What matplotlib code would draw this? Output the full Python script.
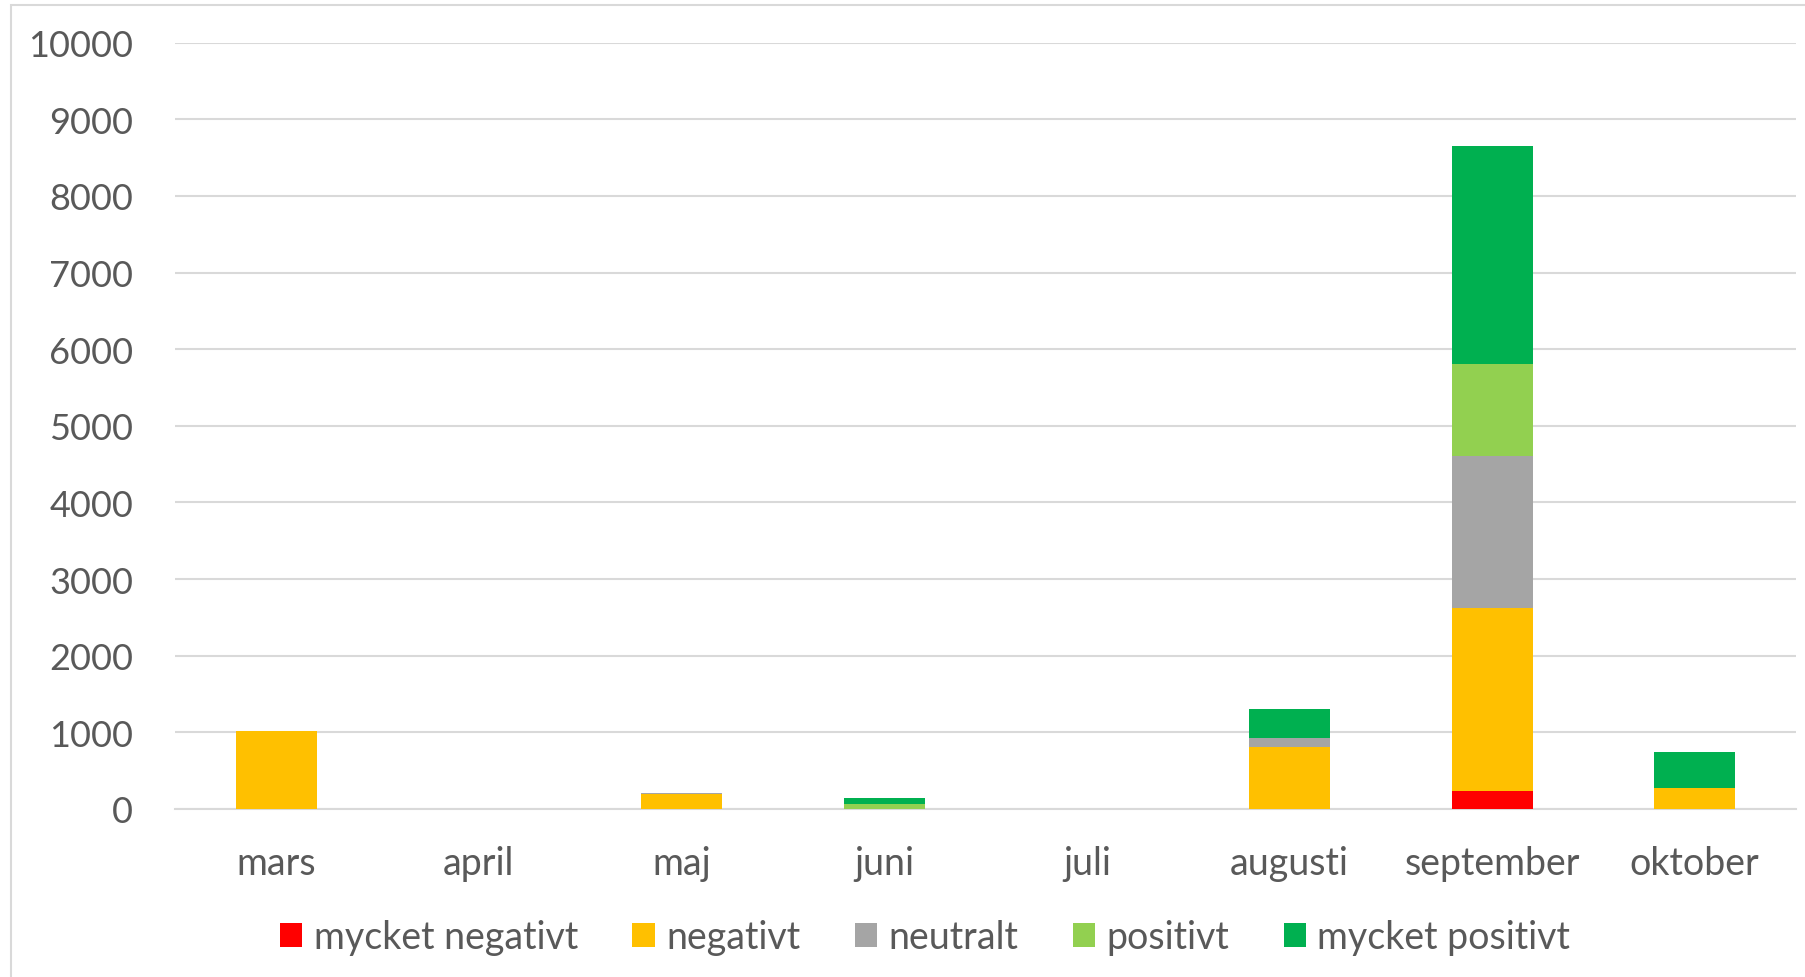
import matplotlib
matplotlib.use('Agg')
import matplotlib.pyplot as plt
from matplotlib.patches import Rectangle
import numpy as np

plt.rcParams['font.family'] = ['Lato', 'DejaVu Sans']

months = ['mars', 'april', 'maj', 'juni', 'juli', 'augusti', 'september', 'oktober']
series_names = ['mycket negativt', 'negativt', 'neutralt', 'positivt', 'mycket positivt']
colors = ['#FF0000', '#FFC000', '#A5A5A5', '#92D050', '#00B050']

mycket_negativt = [0, 0, 0, 0, 0, 0, 240, 0]
negativt = [1020, 0, 200, 0, 0, 810, 2385, 270]
neutralt = [0, 0, 15, 0, 0, 120, 1980, 10]
positivt = [0, 0, 0, 70, 0, 0, 1205, 0]
mycket_positivt = [0, 0, 0, 70, 0, 375, 2840, 465]

data = [mycket_negativt, negativt, neutralt, positivt, mycket_positivt]
yticks = np.arange(0, 10001, 1000)

fig = plt.figure(figsize=(18.05, 9.78), dpi=100)
ax = fig.add_axes([175 / 1805, 1 - 810 / 978, (1796 - 175) / 1805, (810 - 43.7) / 978])

# chart area border
fig.patches.append(Rectangle((11 / 1805, -0.05), 1.2, 1 - 6 / 978 + 0.05,
                             transform=fig.transFigure, fill=False,
                             edgecolor='#D9D9D9', linewidth=1.5))

x = np.arange(len(months))
bottom = np.zeros(len(months))
for name, vals, c in zip(series_names, data, colors):
    vals = np.array(vals, dtype=float)
    ax.bar(x, vals, width=0.4, bottom=bottom, color=c, label=name, zorder=3)
    bottom += vals

ax.set_xlim(-0.5, len(months) - 0.5)
ax.set_ylim(0, 10000)
ax.set_yticks(yticks)
ax.set_xticks(x)
ax.set_xticklabels(months)
ax.yaxis.grid(True, color='#D9D9D9', linewidth=1.5, zorder=0)
ax.tick_params(axis='both', length=0, labelsize=26, colors='#595959')
ax.tick_params(axis='x', labelsize=27, pad=26)
ax.tick_params(axis='y', pad=30)
for s in ['top', 'right', 'left']:
    ax.spines[s].set_visible(False)
ax.spines['bottom'].set_color('#D9D9D9')
ax.spines['bottom'].set_linewidth(1.5)

leg = fig.legend(loc='center', bbox_to_anchor=(0.5125, 1 - 938 / 978), ncol=5,
                 frameon=False, fontsize=27, handlelength=0.6, handleheight=0.6,
                 handletextpad=0.3, columnspacing=1.45)
for t in leg.get_texts():
    t.set_color('#595959')

plt.savefig('out.png', dpi=100)
plt.close()
